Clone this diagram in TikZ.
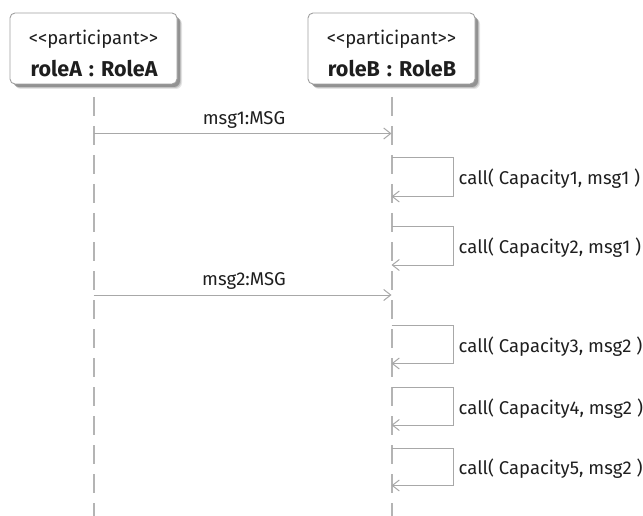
\documentclass[tikz,border=0pt]{standalone}
\usepackage{fontspec}
\setmainfont{Fira Sans}
\usetikzlibrary{arrows.meta}
\definecolor{linegray}{HTML}{A8A8A8}
\definecolor{lifegray}{HTML}{B4B4B4}
\definecolor{boxedge}{HTML}{A0A0A0}
\definecolor{txt}{HTML}{1E1E1E}
\newcommand{\stereotype}[1]{<\kern0pt<#1>\kern0pt>}
\newcommand{\rolename}[2]{#1\hspace{7pt}:\hspace{7pt}#2}
\tikzset{
  partbox/.style={draw=boxedge, line width=0.9pt, fill=white, rounded corners=5pt,
    minimum width=167pt, minimum height=71pt},
  lifeline/.style={lifegray, line width=2pt, dash pattern=on 19pt off 10pt},
  msgline/.style={linegray, line width=1pt, -{Straight Barb[length=7pt,width=11pt,line width=1pt]}},
  msglabel/.style={text=txt, font=\fontsize{18.5}{20}\selectfont, anchor=base, inner sep=0pt},
  callabel/.style={text=txt, font=\fontsize{18.5}{20}\selectfont, anchor=base west, inner sep=0pt},
  stereo/.style={text=txt, font=\fontsize{18.5}{20}\selectfont, anchor=base, inner sep=0pt},
  pname/.style={text=txt, font=\fontsize{21.5}{23}\selectfont\bfseries, anchor=base, inner sep=0pt}
}
\begin{document}
\begin{tikzpicture}[x=1pt, y=-1pt]
\useasboundingbox (0,0) rectangle (643,516);

% participant boxes with soft drop shadows
\foreach \cx in {93.5, 391.5} {
  \foreach \d/\op in {5/0.10, 4/0.15, 3/0.25} {
    \fill[black, opacity=\op, rounded corners=6pt]
      (\cx-83.5+\d, 13+\d) rectangle (\cx+83.5+\d, 84+\d);
  }
}
\node[partbox] (boxA) at (93.5, 48.5) {};
\node[partbox] (boxB) at (391.5, 48.5) {};
\node[stereo] (stA) at (93.5, 45) {\stereotype{participant}};
\node[pname]  (nmA) at (94, 76.5) {\rolename{roleA}{RoleA}};
\node[stereo] (stB) at (391.5, 45) {\stereotype{participant}};
\node[pname]  (nmB) at (392, 76.5) {\rolename{roleB}{RoleB}};

% lifelines
\coordinate (lA0) at (93.5, 97);
\coordinate (lA1) at (93.5, 516);
\coordinate (lB0) at (391.5, 97);
\coordinate (lB1) at (391.5, 516);
\draw[lifeline] (lA0) -- (lA1);
\draw[lifeline] (lB0) -- (lB1);

% asynchronous messages A -> B
\coordinate (m1a) at (93.5, 133.5);
\coordinate (m1b) at (391.5, 133.5);
\draw[msgline] (m1a) -- (m1b);
\node[msglabel] (m1l) at (244, 125) {msg1:MSG};

\coordinate (m2a) at (93.5, 295);
\coordinate (m2b) at (391.5, 295);
\draw[msgline] (m2a) -- (m2b);
\node[msglabel] (m2l) at (244, 285) {msg2:MSG};

% self calls on roleB
\foreach \i/\top/\bot/\cap/\msg in {
  1/157.5/196.5/1/msg1,
  2/226.5/265/2/msg1,
  3/325/363.5/3/msg2,
  4/387/425/4/msg2,
  5/448/485.5/5/msg2} {
  \coordinate (s\i a) at (391.5, \top);
  \coordinate (s\i b) at (391.5, \bot);
  \draw[msgline] (s\i a) -| (453, \bot) -- (s\i b);
  \node[callabel] (s\i l) at (458.5, {(\top+\bot)/2+8}) {call( Capacity\cap, \msg\ )};
}
\end{tikzpicture}
\end{document}
